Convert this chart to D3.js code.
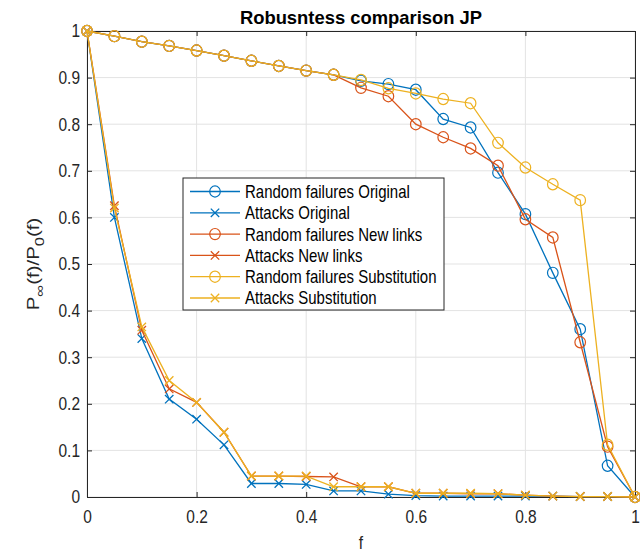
<!DOCTYPE html>
<html>
<head>
<meta charset="utf-8">
<script src="https://cdn.jsdelivr.net/npm/d3@7"></script>
<style>
  html, body { margin: 0; padding: 0; background: #fff; }
  svg { display: block; font-family: "Liberation Sans", Arial, sans-serif; }
  .tall { transform-box: fill-box; transform-origin: center; transform: scaleY(1.2); }
</style>
</head>
<body>
<svg id="chart" width="640" height="552"></svg>
<script>
// Fraction of removed nodes
const fValues = [0, 0.05, 0.1, 0.15, 0.2, 0.25, 0.3, 0.35, 0.4, 0.45, 0.5,
                 0.55, 0.6, 0.65, 0.7, 0.75, 0.8, 0.85, 0.9, 0.95, 1];

// Relative size of the giant component, P_inf(f)/P_0(f)
const randomOriginal = [1, 0.989, 0.977, 0.968, 0.958, 0.947, 0.936, 0.925, 0.915, 0.906, 0.893,
                        0.886, 0.874, 0.811, 0.793, 0.696, 0.607, 0.481, 0.36, 0.067, 0];
const attacksOriginal = [1, 0.6, 0.34, 0.21, 0.167, 0.112, 0.029, 0.029, 0.027, 0.013, 0.013,
                         0.006, 0.003, 0.002, 0.002, 0.002, 0.002, 0.002, 0.001, 0.001, 0];
const randomNewLinks = [1, 0.989, 0.977, 0.968, 0.958, 0.947, 0.936, 0.925, 0.915, 0.906, 0.878,
                        0.86, 0.8, 0.772, 0.748, 0.711, 0.596, 0.557, 0.332, 0.108, 0];
const attacksNewLinks = [1, 0.625, 0.358, 0.232, 0.203, 0.139, 0.045, 0.045, 0.044, 0.043, 0.022,
                         0.022, 0.008, 0.008, 0.007, 0.007, 0.004, 0.002, 0.001, 0.001, 0];
const randomSubstitution = [1, 0.989, 0.977, 0.968, 0.958, 0.947, 0.936, 0.925, 0.915, 0.906, 0.895,
                            0.877, 0.866, 0.854, 0.845, 0.76, 0.707, 0.671, 0.637, 0.112, 0];
const attacksSubstitution = [1, 0.62, 0.365, 0.25, 0.203, 0.139, 0.045, 0.045, 0.045, 0.022, 0.022,
                             0.022, 0.008, 0.008, 0.008, 0.007, 0.004, 0.002, 0.001, 0.001, 0];

const seriesNames = ["Random failures Original", "Attacks Original",
                     "Random failures New links", "Attacks New links",
                     "Random failures Substitution", "Attacks Substitution"];
const seriesMarkers = ["circle", "cross", "circle", "cross", "circle", "cross"];
const seriesColors = ["#0072BD", "#0072BD", "#D95319", "#D95319", "#EDB120", "#EDB120"];
const seriesValues = [randomOriginal, attacksOriginal, randomNewLinks, attacksNewLinks,
                      randomSubstitution, attacksSubstitution];

const xTicks = [0, 0.2, 0.4, 0.6, 0.8, 1];
const yTicks = [0, 0.1, 0.2, 0.3, 0.4, 0.5, 0.6, 0.7, 0.8, 0.9, 1];

const svg = d3.select("#chart");
const margin = { left: 87, right: 5, top: 31, bottom: 55 };
const W = 640, H = 552;
const x = d3.scaleLinear().domain([0, 1]).range([margin.left, W - margin.right]);
const y = d3.scaleLinear().domain([0, 1]).range([H - margin.bottom, margin.top]);

const axisColor = "#262626";
const gridColor = "#e3e3e3";

// grid
const grid = svg.append("g");
grid.selectAll("line.gx").data(xTicks).join("line")
  .attr("x1", d => x(d)).attr("x2", d => x(d))
  .attr("y1", y(0)).attr("y2", y(1))
  .attr("stroke", gridColor).attr("stroke-width", 1);
grid.selectAll("line.gy").data(yTicks).join("line")
  .attr("y1", d => y(d)).attr("y2", d => y(d))
  .attr("x1", x(0)).attr("x2", x(1))
  .attr("stroke", gridColor).attr("stroke-width", 1);

// axes with inward ticks on all four sides
const tickLen = 5;
const fmt = d => d3.format("~g")(d);
const xAxisB = d3.axisBottom(x).tickValues(xTicks).tickFormat(fmt).tickSizeInner(-tickLen).tickSizeOuter(0).tickPadding(14);
const xAxisT = d3.axisTop(x).tickValues(xTicks).tickFormat("").tickSizeInner(-tickLen).tickSizeOuter(0);
const yAxisL = d3.axisLeft(y).tickValues(yTicks).tickFormat(fmt).tickSizeInner(-tickLen).tickSizeOuter(0).tickPadding(7);
const yAxisR = d3.axisRight(y).tickValues(yTicks).tickFormat("").tickSizeInner(-tickLen).tickSizeOuter(0);

function styleAxis(g) {
  g.select(".domain").attr("stroke", axisColor).attr("stroke-width", 1);
  g.selectAll(".tick line").attr("stroke", axisColor);
  g.selectAll(".tick text").attr("fill", axisColor).attr("class", "tall")
    .style("font-size", "15.5px")
    .style("font-family", "'Liberation Sans', Arial, sans-serif");
}
svg.append("g").attr("transform", `translate(0,${y(1)})`).call(xAxisT).call(styleAxis);
svg.append("g").attr("transform", `translate(${x(1)},0)`).call(yAxisR).call(styleAxis);
svg.append("g").attr("transform", `translate(0,${y(0)})`).call(xAxisB).call(styleAxis);
svg.append("g").attr("transform", `translate(${x(0)},0)`).call(yAxisL).call(styleAxis);

// series
const line = d3.line().x((d, i) => x(fValues[i])).y(d => y(d));
const plot = svg.append("g");
seriesValues.forEach((vals, s) => {
  const g = plot.append("g");
  g.append("path").datum(vals).attr("d", line)
    .attr("fill", "none").attr("stroke", seriesColors[s]).attr("stroke-width", 1.3);
  const pts = g.selectAll("g.pt").data(vals).join("g")
    .attr("transform", (d, i) => `translate(${x(fValues[i])},${y(d)})`);
  drawMarker(pts, seriesMarkers[s], seriesColors[s]);
});

function drawMarker(sel, type, color) {
  if (type === "circle") {
    sel.append("ellipse").attr("rx", 5.3).attr("ry", 5.6).attr("fill", "none")
      .attr("stroke", color).attr("stroke-width", 1.2);
  } else {
    const r = 4.2;
    sel.append("path").attr("d", `M${-r},${-r}L${r},${r}M${-r},${r}L${r},${-r}`)
      .attr("stroke", color).attr("stroke-width", 1.3).attr("fill", "none");
  }
}

// title
svg.append("text").attr("x", (x(0) + x(1)) / 2).attr("y", 23.5)
  .attr("text-anchor", "middle").attr("fill", "#000")
  .style("font-size", "18.4px").style("font-weight", "bold")
  .text("Robusntess comparison JP");

// x label
svg.append("text").attr("x", (x(0) + x(1)) / 2).attr("y", 548)
  .attr("text-anchor", "middle").attr("fill", axisColor).attr("class", "tall")
  .style("font-size", "15.5px").text("f");

// y label with subscripts (stretched along the reading direction)
const yl = svg.append("text")
  .attr("transform", `translate(38.5,${(y(0) + y(1)) / 2}) rotate(-90) scale(1.28,1)`)
  .attr("text-anchor", "middle").attr("fill", axisColor).style("font-size", "16px");
yl.append("tspan").text("P");
yl.append("tspan").attr("dy", 5).style("font-size", "13px").text("\u221E");
yl.append("tspan").attr("dy", -5).text("(f)/P");
yl.append("tspan").attr("dy", 5).style("font-size", "13px").text("0");
yl.append("tspan").attr("dy", -5).text("(f)");

// legend
const lg = svg.append("g").attr("transform", "translate(183,178)");
const rowH = 21.3;
lg.append("rect").attr("x", 0).attr("y", 0).attr("width", 261).attr("height", 132)
  .attr("fill", "#fff").attr("stroke", axisColor).attr("stroke-width", 1);
seriesNames.forEach((name, i) => {
  const row = lg.append("g").attr("transform", `translate(0,${13.5 + i * rowH})`);
  row.append("line").attr("x1", 7).attr("x2", 57).attr("y1", 0).attr("y2", 0)
    .attr("stroke", seriesColors[i]).attr("stroke-width", 1.3);
  drawMarker(row.append("g").attr("transform", "translate(32,0)"), seriesMarkers[i], seriesColors[i]);
  row.append("text").attr("x", 62).attr("y", 5.5).attr("fill", "#000").attr("class", "tall")
    .style("font-size", "15px").text(name);
});
</script>
</body>
</html>
